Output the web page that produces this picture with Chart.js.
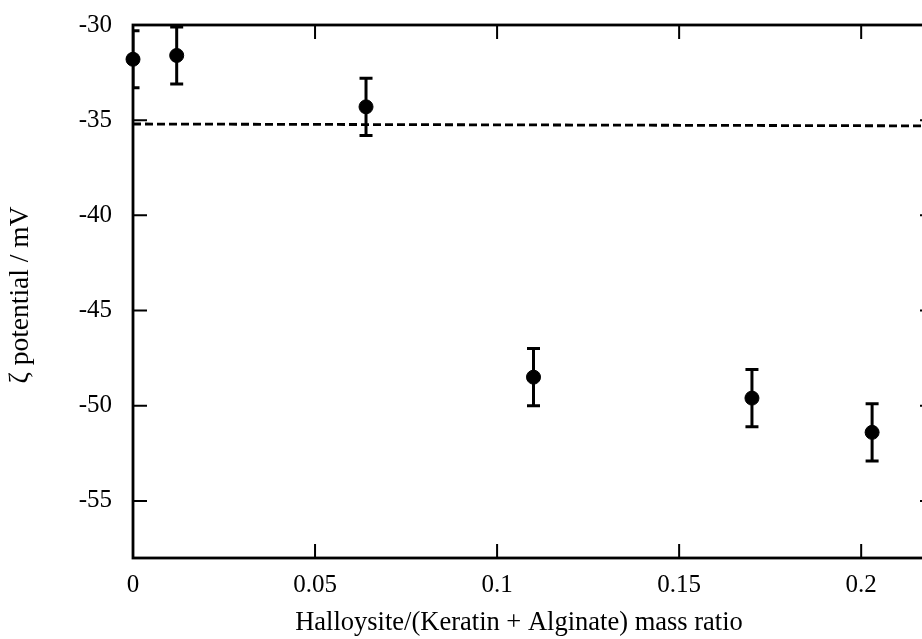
<!DOCTYPE html>
<html>
<head>
<meta charset="utf-8">
<script src="https://cdn.jsdelivr.net/npm/chart.js@4.4.1/dist/chart.umd.min.js"></script>
<style>
  html, body { margin: 0; padding: 0; background: #ffffff; overflow: hidden; }
  #wrap { width: 950px; height: 639px; position: relative; }
</style>
</head>
<body>
<div id="wrap"><canvas id="c"></canvas></div>
<script>
// Data
const massRatio = [0, 0.012, 0.064, 0.110, 0.170, 0.203];
const zetaPotential = [-31.8, -31.6, -34.3, -48.5, -49.6, -51.4];
const zetaError = [1.5, 1.5, 1.5, 1.5, 1.5, 1.5];
const referenceLineX = [0, 0.22];
const referenceLineY = [-35.2, -35.3];
const xTickValues = [0, 0.05, 0.1, 0.15, 0.2];
const xTickLabels = ['0', '0.05', '0.1', '0.15', '0.2'];
const yTickValues = [-30, -35, -40, -45, -50, -55];
const yTickLabels = ['-30', '-35', '-40', '-45', '-50', '-55'];
const xTitle = 'Halloysite/(Keratin + Alginate) mass ratio';
const yTitle = 'ζ potential / mV';

const FONT = '"Liberation Serif", "Times New Roman", serif';

const errorBarPlugin = {
  id: 'errorBars',
  afterDatasetsDraw(chart) {
    const ctx = chart.ctx;
    const xs = chart.scales.x, ys = chart.scales.y;
    const a = chart.chartArea;
    ctx.save();
    ctx.beginPath();
    ctx.rect(a.left, a.top - 5, a.right - a.left, a.bottom - a.top + 10);
    ctx.clip();
    ctx.strokeStyle = '#000';
    ctx.lineWidth = 3;
    ctx.lineCap = 'butt';
    massRatio.forEach((xv, i) => {
      const px = xs.getPixelForValue(xv);
      const pTop = ys.getPixelForValue(zetaPotential[i] + zetaError[i]);
      const pBot = ys.getPixelForValue(zetaPotential[i] - zetaError[i]);
      ctx.beginPath();
      ctx.moveTo(px, pTop); ctx.lineTo(px, pBot);
      ctx.moveTo(px - 6.5, pTop); ctx.lineTo(px + 6.5, pTop);
      ctx.moveTo(px - 6.5, pBot); ctx.lineTo(px + 6.5, pBot);
      ctx.stroke();
    });
    ctx.restore();
  }
};

const framePlugin = {
  id: 'frame',
  afterDraw(chart) {
    const ctx = chart.ctx;
    const xs = chart.scales.x, ys = chart.scales.y;
    const a = chart.chartArea;
    const tl = 14;
    ctx.save();
    ctx.strokeStyle = '#000';
    ctx.lineWidth = 2;
    xTickValues.forEach(v => {
      const px = xs.getPixelForValue(v);
      if (v === 0) return;
      ctx.beginPath();
      ctx.moveTo(px, a.top); ctx.lineTo(px, a.top + tl);
      ctx.moveTo(px, a.bottom); ctx.lineTo(px, a.bottom - tl);
      ctx.stroke();
    });
    yTickValues.forEach(v => {
      const py = ys.getPixelForValue(v);
      if (v === -30) return;
      ctx.beginPath();
      ctx.moveTo(a.left, py); ctx.lineTo(a.left + tl, py);
      ctx.moveTo(a.right, py); ctx.lineTo(a.right - tl, py);
      ctx.stroke();
    });
    ctx.lineWidth = 2.8;
    ctx.strokeRect(a.left, a.top, a.right - a.left, a.bottom - a.top);

    // axis titles
    ctx.fillStyle = '#000';
    ctx.font = '26.5px ' + FONT;
    ctx.textAlign = 'center';
    ctx.textBaseline = 'alphabetic';
    ctx.fillText(xTitle, 519, 630);
    ctx.save();
    ctx.translate(28, 295);
    ctx.rotate(-Math.PI / 2);
    ctx.font = '27.5px ' + FONT;
    ctx.fillText(yTitle, 0, 0);
    ctx.restore();
    ctx.restore();
  }
};

new Chart(document.getElementById('c'), {
  type: 'scatter',
  data: {
    datasets: [
      {
        label: 'reference',
        type: 'line',
        data: referenceLineX.map((x, i) => ({ x: x, y: referenceLineY[i] })),
        borderColor: '#000',
        borderWidth: 2.8,
        borderDash: [8, 4],
        pointRadius: 0,
        fill: false,
        order: 2
      },
      {
        label: 'zeta',
        data: massRatio.map((x, i) => ({ x: x, y: zetaPotential[i] })),
        backgroundColor: '#000',
        borderColor: '#000',
        pointRadius: 7,
        pointHoverRadius: 7,
        clip: false,
        order: 1
      }
    ]
  },
  options: {
    responsive: true,
    maintainAspectRatio: false,
    animation: false,
    events: [],
    layout: { padding: { left: 0, top: 25, right: 16, bottom: 0 } },
    plugins: { legend: { display: false }, tooltip: { enabled: false } },
    scales: {
      x: {
        type: 'linear',
        min: 0,
        max: 0.22,
        afterBuildTicks: s => { s.ticks = xTickValues.map(v => ({ value: v })); },
        afterFit: s => { s.height = 81; s.paddingLeft = 0; s.paddingRight = 0; },
        grid: { display: false, drawTicks: false },
        border: { display: false },
        ticks: {
          padding: 12,
          color: '#000',
          font: { family: FONT, size: 25 },
          maxRotation: 0,
          callback: (v) => { const i = xTickValues.indexOf(v); return i >= 0 ? xTickLabels[i] : ''; }
        },
        title: { display: false }
      },
      y: {
        type: 'linear',
        min: -58,
        max: -30,
        afterBuildTicks: s => { s.ticks = yTickValues.map(v => ({ value: v })); },
        afterFit: s => { s.width = 133; s.paddingTop = 0; s.paddingBottom = 0; },
        grid: { display: false, drawTicks: false },
        border: { display: false },
        ticks: {
          padding: 21,
          color: '#000',
          font: { family: FONT, size: 25 },
          callback: (v) => { const i = yTickValues.indexOf(v); return i >= 0 ? yTickLabels[i] : ''; }
        },
        title: { display: false }
      }
    }
  },
  plugins: [errorBarPlugin, framePlugin]
});
</script>
</body>
</html>
